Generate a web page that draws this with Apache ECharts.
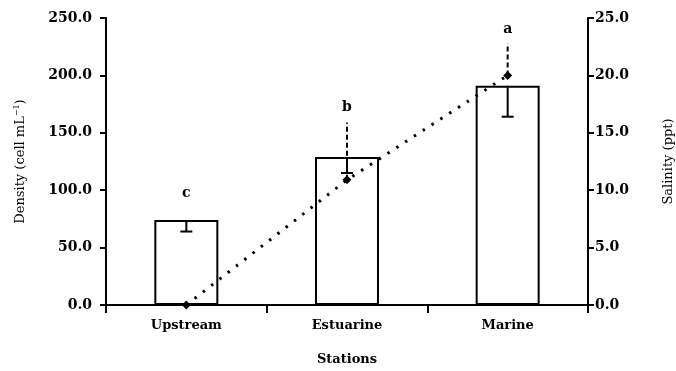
<!DOCTYPE html>
<html>
<head>
<meta charset="utf-8">
<script src="https://cdn.jsdelivr.net/npm/echarts@6/dist/echarts.min.js"></script>
<style>
    html, body {margin: 0; padding: 0; background: #fff;}
    #main {width: 676px; height: 371px;}
</style>
</head>
<body>
<div id="main"></div>
<script>
// data
var stations = ['Upstream', 'Estuarine', 'Marine'];
var density = [74, 129, 191];          // cell mL-1
var densityErr = [10, 14, 27];         // drawn downward
var salinity = [0.0, 10.9, 20.0];      // ppt
var salinityErr = [0, 5.0, 2.8];       // drawn upward, dashed
var letters = ['c', 'b', 'a'];
var letterY = [97, 172, 240];          // in density units
var densityTicks = {min: 0, max: 250, interval: 50};
var salinityTicks = {min: 0, max: 25, interval: 5};

var font = 'DejaVu Serif';
var myChart = echarts.init(document.getElementById('main'));

function axisBase() {
    return {
        axisLine: {show: true, lineStyle: {color: '#000', width: 2}},
        axisTick: {show: true, length: 6, lineStyle: {color: '#000', width: 2}},
        splitLine: {show: false}
    };
}

var yLeft = Object.assign(axisBase(), {
    type: 'value',
    position: 'left',
    min: densityTicks.min, max: densityTicks.max, interval: densityTicks.interval,
    name: 'Density (cell mL{sup|−1})',
    nameLocation: 'middle',
    nameGap: 78,
    nameRotate: 90,
    nameTextStyle: {
        fontFamily: font, fontSize: 13, color: '#000',
        rich: {sup: {fontFamily: font, fontSize: 8, color: '#000', verticalAlign: 'top', padding: [0, 0, 7, 0]}}
    },
    axisLabel: {
        margin: 14, color: '#000', fontFamily: font, fontWeight: 'bold', fontSize: 14,
        formatter: function (v) { return v.toFixed(1); }
    }
});

var yRight = Object.assign(axisBase(), {
    type: 'value',
    position: 'right',
    min: salinityTicks.min, max: salinityTicks.max, interval: salinityTicks.interval,
    name: 'Salinity (ppt)',
    nameLocation: 'middle',
    nameGap: 74,
    nameRotate: 90,
    nameTextStyle: {fontFamily: font, fontSize: 13, color: '#000'},
    axisLabel: {
        margin: 7, color: '#000', fontFamily: font, fontWeight: 'bold', fontSize: 14,
        formatter: function (v) { return v.toFixed(1); }
    }
});

var option = {
    animation: false,
    grid: {left: 106, right: 88, top: 18, bottom: 66, outerBoundsMode: 'none', containLabel: false},
    xAxis: Object.assign(axisBase(), {
        type: 'category',
        data: stations,
        boundaryGap: true,
        axisTick: {show: true, length: 8, lineStyle: {color: '#000', width: 2}},
        axisLabel: {margin: 14, color: '#000', fontFamily: font, fontWeight: 'bold', fontSize: 13},
        name: 'Stations',
        nameLocation: 'middle',
        nameGap: 48,
        nameTextStyle: {fontFamily: font, fontWeight: 'bold', fontSize: 13, color: '#000'}
    }),
    yAxis: [yLeft, yRight],
    series: [
        {
            name: 'Density',
            type: 'bar',
            data: density,
            barWidth: 64,
            itemStyle: {color: '#fff', borderColor: '#000', borderWidth: 2},
            z: 2
        },
        {
            // density error bars (down, solid with cap)
            type: 'custom',
            z: 3,
            data: density.map(function (d, i) { return [i, d, d - densityErr[i]]; }),
            renderItem: function (params, api) {
                var top = api.coord([api.value(0), api.value(1)]);
                var bot = api.coord([api.value(0), api.value(2)]);
                var w = 6;
                var st = {stroke: '#000', lineWidth: 2};
                return {
                    type: 'group',
                    children: [
                        {type: 'line', shape: {x1: top[0], y1: top[1], x2: bot[0], y2: bot[1]}, style: st},
                        {type: 'line', shape: {x1: bot[0] - w, y1: bot[1], x2: bot[0] + w, y2: bot[1]}, style: st}
                    ]
                };
            }
        },
        {
            // salinity error bars (up, dashed)
            type: 'custom',
            yAxisIndex: 1,
            z: 4,
            data: salinity.map(function (s, i) { return [i, s, s + salinityErr[i]]; }),
            renderItem: function (params, api) {
                var a = api.coord([api.value(0), api.value(1)]);
                var b = api.coord([api.value(0), api.value(2)]);
                return {
                    type: 'line',
                    shape: {x1: a[0], y1: a[1], x2: b[0], y2: b[1]},
                    style: {stroke: '#000', lineWidth: 2, lineDash: [5, 3]}
                };
            }
        },
        {
            name: 'Salinity',
            type: 'line',
            yAxisIndex: 1,
            data: salinity,
            symbol: 'diamond',
            symbolSize: 9,
            itemStyle: {color: '#000'},
            lineStyle: {color: '#000', width: 3, type: [2.5, 8]},
            z: 5
        },
        {
            // significance letters
            type: 'custom',
            z: 6,
            data: letterY.map(function (y, i) { return [i, y]; }),
            renderItem: function (params, api) {
                var p = api.coord([api.value(0), api.value(1)]);
                return {
                    type: 'text',
                    x: p[0], y: p[1],
                    style: {
                        text: letters[params.dataIndex],
                        fill: '#000',
                        font: 'bold 14px "DejaVu Serif"',
                        align: 'center',
                        verticalAlign: 'middle'
                    }
                };
            }
        }
    ]
};

myChart.setOption(option);
</script>
</body>
</html>
